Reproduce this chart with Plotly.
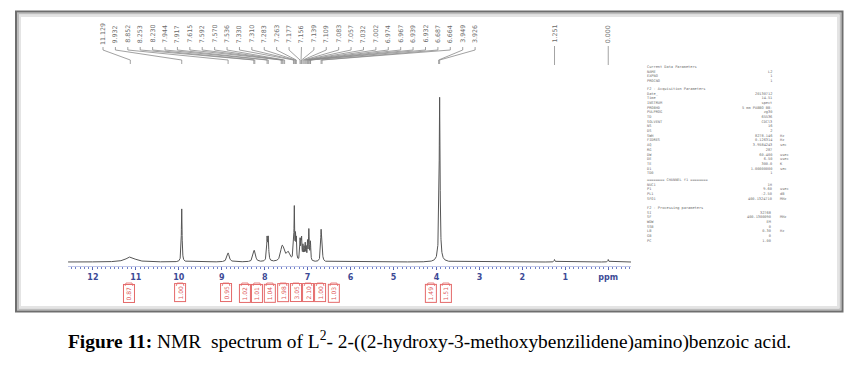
import numpy as np
import plotly.graph_objects as go

W, H = 864, 368

# ---------------- data ----------------
# peak list: position (ppm), height (arbitrary units), half width (ppm)
peak_ppm = [11.129, 9.932, 8.852, 8.253, 8.230, 7.944, 7.917, 7.615, 7.592, 7.570, 7.536,
            7.450, 7.330, 7.310, 7.283, 7.263, 7.177, 7.156, 7.139, 7.109, 7.083, 7.057,
            7.032, 7.002, 6.974, 6.967, 6.939, 6.932, 6.687, 6.664, 3.949, 3.926, 3.930,
            1.251, 0.000]
peak_height = [5, 53, 9, 7, 7, 22, 22, 6, 7, 6, 4,
               9, 18, 50, 22, 20, 20, 16, 20, 14, 12, 16,
               12, 18, 20, 16, 12, 10, 30, 12, 8, 160, 3,
               2.5, 2.5]
peak_width = [0.13, 0.010, 0.030, 0.025, 0.025, 0.012, 0.012, 0.030, 0.030, 0.030, 0.030,
              0.050, 0.008, 0.008, 0.008, 0.008, 0.008, 0.008, 0.008, 0.008, 0.008, 0.008,
              0.008, 0.008, 0.008, 0.008, 0.008, 0.008, 0.012, 0.012, 0.012, 0.012, 0.060,
              0.010, 0.010]

# peak-pick labels printed at the top
pick_labels = [11.129, 9.932, 8.852, 8.253, 8.230, 7.944, 7.917, 7.615, 7.592, 7.570, 7.536,
               7.330, 7.310, 7.283, 7.263, 7.177, 7.156, 7.139, 7.109, 7.083, 7.057, 7.032,
               7.002, 6.974, 6.967, 6.939, 6.932, 6.687, 6.664, 3.949, 3.926]
single_labels = [1.251, 0.000]

# integrals
integral_ppm = [11.16, 9.97, 8.90, 8.46, 8.18, 7.88, 7.57, 7.27, 6.99, 6.71, 6.39, 4.13, 3.78]
integral_val = ["0.87", "1.00", "0.95", "1.02", "1.01", "1.04", "1.98", "3.05", "2.10",
                "1.00", "1.03", "1.49", "1.51"]

axis_ticks = [12, 11, 10, 9, 8, 7, 6, 5, 4, 3, 2, 1, 0]
axis_text = ["12", "11", "10", "9", "8", "7", "6", "5", "4", "3", "2", "1", "ppm"]

# acquisition / processing parameter blocks: (header, [(name, value, unit), ...])
param_blocks = [
    ("Current Data Parameters",
     [("NAME", "L2", ""), ("EXPNO", "1", ""), ("PROCNO", "1", "")]),
    ("F2 - Acquisition Parameters",
     [("Date_", "20130712", ""), ("Time", "14.51", ""), ("INSTRUM", "spect", ""),
      ("PROBHD", "5 mm PABBO BB-", ""), ("PULPROG", "zg30", ""), ("TD", "65536", ""),
      ("SOLVENT", "CDCl3", ""), ("NS", "16", ""), ("DS", "2", ""),
      ("SWH", "8278.146", "Hz"), ("FIDRES", "0.126314", "Hz"), ("AQ", "3.9584243", "sec"),
      ("RG", "287", ""), ("DW", "60.400", "usec"), ("DE", "6.50", "usec"),
      ("TE", "300.0", "K"), ("D1", "1.00000000", "sec"), ("TD0", "1", "")]),
    ("======== CHANNEL f1 ========",
     [("NUC1", "1H", ""), ("P1", "9.60", "usec"), ("PL1", "-2.50", "dB"),
      ("SFO1", "400.1324710", "MHz")]),
    ("F2 - Processing parameters",
     [("SI", "32768", ""), ("SF", "400.1300090", "MHz"), ("WDW", "EM", ""),
      ("SSB", "0", ""), ("LB", "0.30", "Hz"), ("GB", "0", ""), ("PC", "1.00", "")]),
]

# ---------------- helpers ----------------
def px(x):
    return x / W

def py(y):
    return (H - y) / H

X_LEFT, X_RIGHT = 68, 631      # pixel extent of the ppm axis
PPM_LEFT, PPM_RIGHT = 12.58, -0.53

ppm = np.arange(PPM_RIGHT, PPM_LEFT, 0.002)
inten = np.zeros_like(ppm)
for p, h, w in zip(peak_ppm, peak_height, peak_width):
    inten += h / (1.0 + ((ppm - p) / w) ** 2)

fig = go.Figure()
fig.add_trace(go.Scatter(x=ppm, y=inten, mode="lines",
                         line=dict(color="#555555", width=1), hoverinfo="skip",
                         showlegend=False))

# ---------------- peak pick labels & connectors ----------------
n = len(pick_labels)
lab_pos = np.linspace(11.765, 3.10, n)   # evenly spread label positions (layout)
cx, cy = [], []
for lp, v in zip(lab_pos, pick_labels):
    cx += [lp, lp, v, v, None]
    cy += [47, 50, 60, 64, None]
for v in single_labels:
    cx += [v, v, None]
    cy += [46, 65, None]
fig.add_trace(go.Scatter(x=cx, y=cy, mode="lines", xaxis="x", yaxis="y2",
                         line=dict(color="#8a8a8a", width=0.8), hoverinfo="skip",
                         showlegend=False))

annotations = []
for lp, v in zip(list(lab_pos) + single_labels, pick_labels + single_labels):
    annotations.append(dict(x=lp, xref="x", y=py(34), yref="paper", text=f"{v:.3f}",
                            textangle=-90, showarrow=False, xanchor="center", yanchor="middle",
                            font=dict(family="DejaVu Sans", size=6.3, color="#6a6a6a")))

# ---------------- integrals ----------------
bx, by = [], []
for p, v in zip(integral_ppm, integral_val):
    annotations.append(dict(x=p, xref="x", y=py(293), yref="paper", text=v,
                            textangle=-90, showarrow=False, bordercolor="#e46a6a",
                            borderwidth=1, borderpad=1.5, xanchor="center", yanchor="middle",
                            font=dict(family="DejaVu Sans", size=6, color="#e05a5a")))
    bx += [p + 0.09, p + 0.07, p - 0.07, p - 0.09, None]
    by += [286, 283, 283, 286, None]
fig.add_trace(go.Scatter(x=bx, y=by, mode="lines", xaxis="x", yaxis="y2",
                         line=dict(color="#e46a6a", width=0.8), hoverinfo="skip",
                         showlegend=False))

# ---------------- parameter block ----------------
PFONT = dict(family="DejaVu Sans Mono", size=3.6, color="#6e6e6e")
block_top = [65, 87, 178, 206]
for (head, rows), top in zip(param_blocks, block_top):
    names = [head] + [r[0] for r in rows]
    vals = ["\u00a0"] + [r[1] for r in rows]
    units = ["\u00a0"] + [(r[2] if r[2] else "\u00a0") for r in rows]
    annotations.append(dict(x=px(645), y=py(top - 2.5), xref="paper", yref="paper",
                            text="<br>".join(names), align="left",
                            xanchor="left", yanchor="top", showarrow=False, font=PFONT))
    annotations.append(dict(x=px(774), y=py(top - 2.5), xref="paper", yref="paper",
                            text="<br>".join(vals), align="right",
                            xanchor="right", yanchor="top", showarrow=False, font=PFONT))
    if any(r[2] for r in rows):
        annotations.append(dict(x=px(778), y=py(top - 2.5), xref="paper", yref="paper",
                                text="<br>".join(units), align="left",
                                xanchor="left", yanchor="top", showarrow=False, font=PFONT))

# ---------------- caption ----------------
annotations.append(dict(x=px(429), y=py(340), xref="paper", yref="paper",
                        text="<b>Figure 11:</b> NMR  spectrum of L<sup>2</sup>- "
                             "2-((2-hydroxy-3-methoxybenzilidene)amino)benzoic acid.",
                        showarrow=False, xanchor="center", yanchor="middle",
                        font=dict(family="Liberation Serif", size=19.4, color="#000000")))

# ---------------- frame ----------------
shapes = [
    dict(type="rect", xref="paper", yref="paper", x0=px(20), x1=px(838), y0=py(307), y1=py(16),
         line=dict(color="#e4e4e4", width=2)),
    dict(type="rect", xref="paper", yref="paper", x0=px(18), x1=px(840.5), y0=py(309.5), y1=py(13.5),
         line=dict(color="#bdbdbd", width=2)),
    dict(type="rect", xref="paper", yref="paper", x0=px(16), x1=px(842.5), y0=py(311.5), y1=py(11.5),
         line=dict(color="#6e6e6e", width=2)),
]

fig.update_layout(
    width=W, height=H, margin=dict(l=0, r=0, t=0, b=0),
    paper_bgcolor="white", plot_bgcolor="rgba(0,0,0,0)",
    showlegend=False,
    xaxis=dict(domain=[px(X_LEFT), px(X_RIGHT)], range=[PPM_LEFT, PPM_RIGHT],
               tickmode="array", tickvals=axis_ticks, ticktext=axis_text,
               ticks="outside", ticklen=3, tickwidth=1, tickcolor="#5868b8",
               tickfont=dict(family="DejaVu Sans", size=8, color="#3c4a96", weight="bold"),
               showline=True, linecolor="#c0c6e8", linewidth=1,
               minor=dict(tickmode="linear", tick0=0, dtick=0.1, ticks="outside",
                          ticklen=1.5, tickcolor="#7080c8"),
               showgrid=False, zeroline=False, anchor="y", fixedrange=True),
    yaxis=dict(domain=[py(266), py(40)], range=[-4, 222], visible=False, fixedrange=True),
    yaxis2=dict(domain=[0, 1], range=[H, 0], visible=False, anchor="x", fixedrange=True),
    annotations=annotations,
    shapes=shapes,
)

fig.write_html("out.html", config={"displayModeBar": False},
               post_script="document.body.style.margin='0';")
